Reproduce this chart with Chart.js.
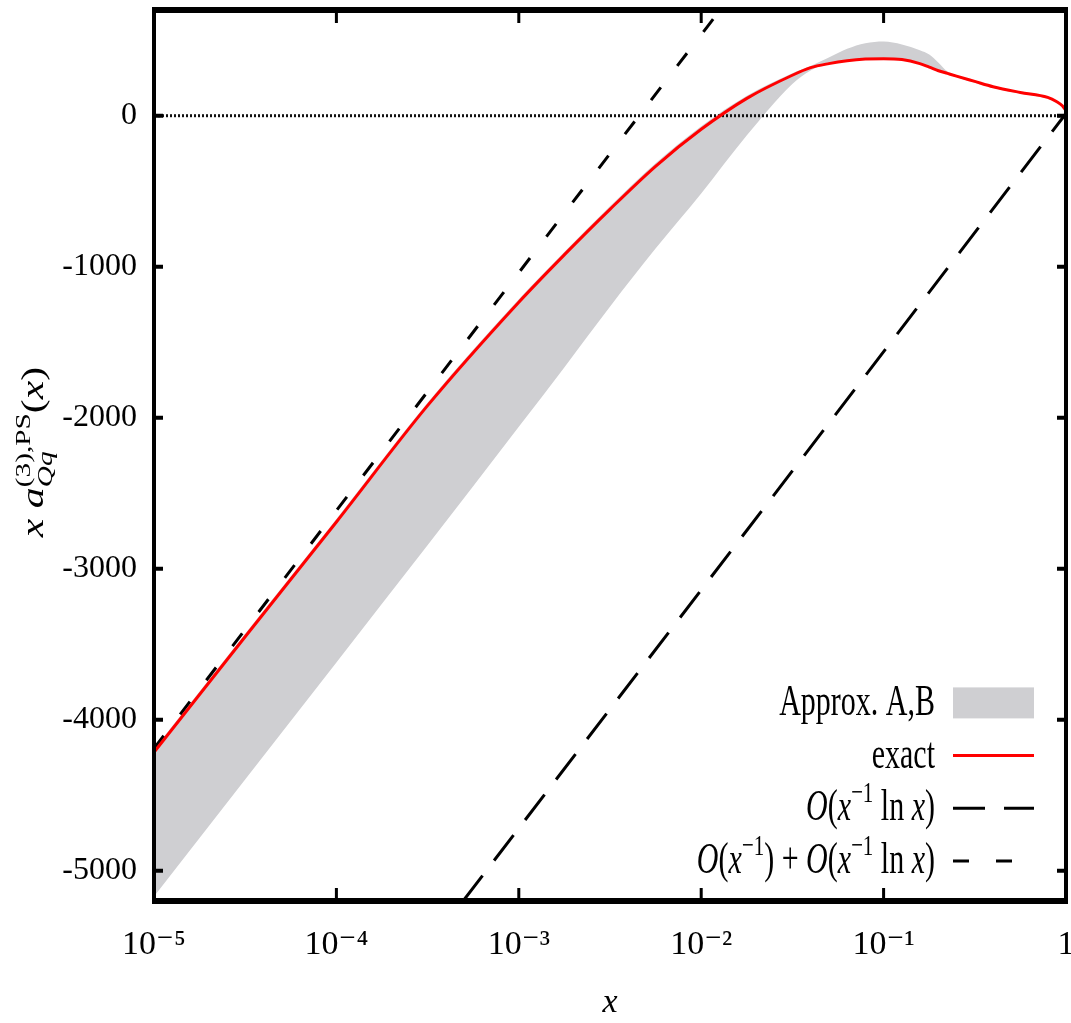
<!DOCTYPE html>
<html>
<head>
<meta charset="utf-8">
<script src="https://cdn.jsdelivr.net/npm/chart.js@4.4.1/dist/chart.umd.min.js"></script>
<style>
  html, body { margin: 0; padding: 0; background: #fff; }
  canvas { display: block; }
</style>
</head>
<body>
<canvas id="chart" width="1071" height="1023"></canvas>
<script>
// sample points along x, log spaced, denser around the turnover
const xs = [1e-5, 3.16e-5, 1e-4, 3.16e-4, 1e-3, 1.78e-3, 3.16e-3, 5.62e-3, 0.01, 0.0178,
            0.0316, 0.0398, 0.0501, 0.0631, 0.0794, 0.1, 0.126, 0.158, 0.178, 0.2,
            0.224, 0.251, 0.316, 0.398, 0.562, 0.794, 0.891, 0.955, 1];
const exact = [-4215, -3450, -2690, -1920, -1235, -920, -620, -335, -90, 115,
               268, 318, 345, 364, 375, 378, 372, 345, 322, 298,
               280, 262, 227, 192, 154, 121, 92, 66, 33];
// band spanned by the two approximations
const approxUpper = [-4195, -3430, -2670, -1900, -1215, -900, -600, -315, -70, 132,
                     282, 330, 385, 443, 480, 491, 472, 434, 405, 350,
                     292, 268, 232, 197, 158, 125, 96, 69, 36];
const approxLower = [-5170, -4395, -3620, -2845, -2060, -1665, -1265, -880, -515, -130,
                     210, 300, 345, 364, 375, 378, 372, 345, 322, 298,
                     276, 254, 219, 184, 146, 113, 85, 60, 28];
// small-x asymptotics, straight lines in ln x
const lnxX = [4.95e-4, 1];
const lnxY = [-5200, 15];
const fullX = [1e-5, 0.0127];
const fullY = [-4190, 700];

const xTicks = [1e-5, 1e-4, 1e-3, 1e-2, 1e-1, 1];
const xTickLabels = ['10⁻⁵', '10⁻⁴', '10⁻³', '10⁻²', '10⁻¹', '1'];
const yTicks = [0, -1000, -2000, -3000, -4000, -5000];

const FAMILY = '"Liberation Serif", "DejaVu Serif", serif';

const pts = (x, y) => x.map((v, i) => ({ x: v, y: y[i] }));

// --- little rich text helper: [text, kind, subscript] with kind rm | it | sup
function runFont(kind, size) {
  const small = kind === 'sup' || kind === 'sub';
  const italic = kind === 'it' || kind === 'sub';
  return (italic ? 'italic ' : '') + (small ? size * 0.7 : size) + 'px ' + FAMILY;
}

function drawRuns(ctx, runs, size, measureOnly) {
  let x = 0;
  for (const [text, kind, sub] of runs) {
    ctx.font = runFont(kind, size);
    let w = ctx.measureText(text).width;
    if (kind === 'sup') {
      if (!measureOnly) ctx.fillText(text, x, -size * 0.42);
      if (sub) {
        ctx.font = runFont('sub', size);
        if (!measureOnly) ctx.fillText(sub, x, size * 0.28);
        w = Math.max(w, ctx.measureText(sub).width);
      }
    } else if (!measureOnly) {
      ctx.fillText(text, x, 0);
    }
    x += w;
  }
  return x;
}

const yTitleRuns = [['x', 'it'], [' ', 'rm'], ['a', 'it'], ['(3),PS', 'sup', 'Qq'],
                    ['(', 'rm'], ['x', 'it'], [')', 'rm']];

const legendRows = [
  { ds: 4, runs: [['Approx. A,B', 'rm']] },
  { ds: 0, runs: [['exact', 'rm']] },
  { ds: 2, runs: [['O', 'it'], ['(', 'rm'], ['x', 'it'], ['−1', 'sup'], [' ln ', 'rm'],
                  ['x', 'it'], [')', 'rm']] },
  { ds: 1, runs: [['O', 'it'], ['(', 'rm'], ['x', 'it'], ['−1', 'sup'], [')', 'rm'],
                  [' + ', 'rm'], ['O', 'it'], ['(', 'rm'], ['x', 'it'], ['−1', 'sup'],
                  [' ln ', 'rm'], ['x', 'it'], [')', 'rm']] }
];

// heavy frame with inward ticks on all four sides
const framePlugin = {
  id: 'frame',
  afterDatasetsDraw(chart) {
    const { ctx, chartArea: a, scales: { x, y } } = chart;
    ctx.save();
    ctx.strokeStyle = '#000';
    ctx.lineWidth = 3;
    ctx.beginPath();
    x.ticks.forEach(t => {
      const px = x.getPixelForValue(t.value);
      ctx.moveTo(px, a.bottom); ctx.lineTo(px, a.bottom - 13);
      ctx.moveTo(px, a.top); ctx.lineTo(px, a.top + 13);
    });
    ctx.stroke();
    ctx.lineWidth = 4;
    ctx.beginPath();
    y.ticks.forEach(t => {
      const py = y.getPixelForValue(t.value);
      ctx.moveTo(a.left, py); ctx.lineTo(a.left + 9, py);
      ctx.moveTo(a.right, py); ctx.lineTo(a.right - 9, py);
    });
    ctx.stroke();
    ctx.lineWidth = 6;
    ctx.beginPath();
    ctx.moveTo(a.left - 2, a.top); ctx.lineTo(a.right + 2, a.top);
    ctx.moveTo(a.left - 2, a.bottom); ctx.lineTo(a.right + 2, a.bottom);
    ctx.stroke();
    ctx.lineWidth = 4;
    ctx.beginPath();
    ctx.moveTo(a.left, a.top); ctx.lineTo(a.left, a.bottom);
    ctx.moveTo(a.right, a.top); ctx.lineTo(a.right, a.bottom);
    ctx.stroke();
    ctx.restore();
  }
};

// key in the lower right corner (text first, sample on the right) and the y label
const keyPlugin = {
  id: 'key',
  afterDraw(chart) {
    const { ctx, chartArea: a } = chart;
    const size = 30, stretch = 1.45;
    ctx.save();
    ctx.fillStyle = '#000';
    ctx.textBaseline = 'alphabetic';
    ctx.textAlign = 'left';
    legendRows.forEach((row, i) => {
      const base = a.bottom - 28 - (legendRows.length - 1 - i) * 52.7;
      const w = drawRuns(ctx, row.runs, size, true);
      ctx.save();
      ctx.translate(a.right - 131 - w, base);
      ctx.scale(1, stretch);
      drawRuns(ctx, row.runs, size, false);
      ctx.restore();

      const ds = chart.data.datasets[row.ds];
      const cy = base - 12;
      const x0 = a.right - 113, x1 = a.right - 32;
      ctx.save();
      if (ds.fill) {
        ctx.fillStyle = ds.backgroundColor;
        ctx.fillRect(x0, cy - 15.5, x1 - x0, 31);
      } else {
        ctx.strokeStyle = ds.borderColor;
        ctx.lineWidth = ds.borderWidth;
        ctx.setLineDash(ds.borderDash || []);
        ctx.beginPath();
        ctx.moveTo(x0, cy); ctx.lineTo(x1, cy);
        ctx.stroke();
      }
      ctx.restore();
    });

    // rotated y label
    const ts = 31, along = 1.35;
    const tw = drawRuns(ctx, yTitleRuns, ts, true) * along;
    ctx.translate(43, 452 + tw / 2);
    ctx.rotate(-Math.PI / 2);
    ctx.scale(along, 1);
    drawRuns(ctx, yTitleRuns, ts, false);
    ctx.restore();
  }
};

const curve = { pointRadius: 0, cubicInterpolationMode: 'monotone' };
const straight = { pointRadius: 0, tension: 0 };

new Chart(document.getElementById('chart'), {
  type: 'line',
  data: {
    datasets: [
      { label: 'exact', data: pts(xs, exact), borderColor: '#ff0000', borderWidth: 3, fill: false, ...curve },
      { label: 'O(x⁻¹) + O(x⁻¹ ln x)', data: pts(fullX, fullY), borderColor: '#000', borderWidth: 3,
        borderDash: [16, 27], fill: false, ...straight },
      { label: 'O(x⁻¹ ln x)', data: pts(lnxX, lnxY), borderColor: '#000', borderWidth: 3,
        borderDash: [32, 19], fill: false, ...straight },
      { label: 'zero', data: pts([1e-5, 1], [0, 0]), borderColor: '#111', borderWidth: 3,
        borderDash: [2, 2], fill: false, ...straight },
      { label: 'Approx. A,B', data: pts(xs, approxUpper), borderColor: 'rgba(0,0,0,0)', borderWidth: 0,
        backgroundColor: '#cfcfd2', fill: '+1', ...curve },
      { label: 'Approx. A,B (lower)', data: pts(xs, approxLower), borderColor: 'rgba(0,0,0,0)', borderWidth: 0,
        fill: false, ...curve }
    ]
  },
  options: {
    responsive: false,
    animation: false,
    events: [],
    layout: { padding: { top: 10, right: 5, left: 0, bottom: 0 } },
    plugins: { legend: { display: false }, tooltip: { enabled: false } },
    scales: {
      x: {
        type: 'logarithmic',
        min: 1e-5,
        max: 1,
        afterBuildTicks: s => { s.ticks = xTicks.map(v => ({ value: v })); },
        afterFit: s => { s.height = 122; s.paddingLeft = 0; s.paddingRight = 0; },
        grid: { display: false, drawTicks: false },
        border: { display: false },
        ticks: {
          autoSkip: false,
          maxRotation: 0,
          padding: 24,
          color: '#000',
          font: { family: FAMILY, size: 34 },
          callback: v => xTickLabels[xTicks.indexOf(v)]
        },
        title: {
          display: true,
          text: 'x',
          color: '#000',
          font: { family: FAMILY, size: 34, style: 'italic' },
          padding: { top: 0, bottom: 0 }
        }
      },
      y: {
        type: 'linear',
        min: -5200,
        max: 700,
        afterBuildTicks: s => { s.ticks = yTicks.map(v => ({ value: v })); },
        afterFit: s => { s.width = 154; s.paddingTop = 0; s.paddingBottom = 0; },
        grid: { display: false, drawTicks: false },
        border: { display: false },
        ticks: {
          padding: 17,
          color: '#000',
          font: { family: FAMILY, size: 32 },
          callback: v => String(v)
        }
      }
    }
  },
  plugins: [framePlugin, keyPlugin]
});
</script>
</body>
</html>
